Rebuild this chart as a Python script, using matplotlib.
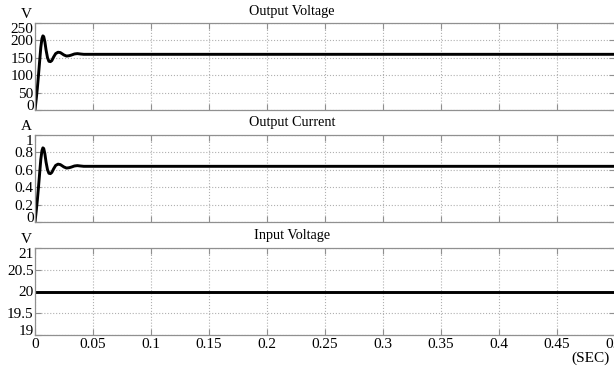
import numpy as np
import matplotlib
matplotlib.use('Agg')
import matplotlib.pyplot as plt
from matplotlib.ticker import FuncFormatter

# values
t = [0, 0.001, 0.002, 0.003, 0.004, 0.005, 0.006, 0.0068, 0.0075, 0.0085,
     0.0095, 0.0108, 0.012, 0.0133, 0.0145, 0.016, 0.0178, 0.0198, 0.0218,
     0.0232, 0.025, 0.0272, 0.0295, 0.0315, 0.034, 0.0365, 0.039, 0.042,
     0.046, 0.5]
v_out = [0, 30, 62, 100, 140, 180, 205, 213, 211, 196,
         173, 150, 140, 139, 142, 152, 162, 166, 165,
         162, 158, 155, 156, 158, 161, 162, 161, 160,
         160, 160]
i_out = [0, 0.12, 0.25, 0.40, 0.56, 0.72, 0.82, 0.852, 0.845, 0.785,
         0.69, 0.60, 0.56, 0.556, 0.57, 0.61, 0.65, 0.665, 0.66,
         0.648, 0.632, 0.62, 0.624, 0.632, 0.644, 0.648, 0.644, 0.64,
         0.64, 0.64]
t_in = [0, 0.5]
v_in = [20, 20]

x_ticks = [0, 0.05, 0.1, 0.15, 0.2, 0.25, 0.3, 0.35, 0.4, 0.45, 0.5]
panels = [
    ('Output Voltage', 'V', t, v_out, (0, 250), [0, 50, 100, 150, 200, 250]),
    ('Output Current', 'A', t, i_out, (0, 1), [0, 0.2, 0.4, 0.6, 0.8, 1]),
    ('Input Voltage', 'V', t_in, v_in, (19, 21), [19, 19.5, 20, 20.5, 21]),
]

plt.rcParams['font.family'] = ['Liberation Serif', 'DejaVu Serif']

W, H = 614, 367
fig = plt.figure(figsize=(W / 100, H / 100), dpi=100)

# (top, bottom) in pixels of each panel
boxes = [(23, 110), (135, 222), (248, 335)]
left_px, right_px = 35, 615

fmt = FuncFormatter(lambda x, p: ('%g' % x))

for k, (title, unit, xs, ys, ylim, yt) in enumerate(panels):
    top, bot = boxes[k]
    ax = fig.add_axes([left_px / W, 1 - bot / H, (right_px - left_px) / W, (bot - top) / H])
    ax.plot(xs, ys, color='black', lw=2.1, solid_joinstyle='round')
    ax.set_xlim(0, 0.5)
    ax.set_ylim(*ylim)
    ax.set_yticks(yt)
    ax.set_xticks(x_ticks)
    ax.yaxis.set_major_formatter(fmt)
    ax.xaxis.set_major_formatter(fmt)
    ax.grid(True, linestyle=':', color='#b0b0b0', lw=0.8)
    ax.tick_params(direction='in', length=4, width=0.8, color='#909090',
                   top=True, right=True, labelsize=11, pad=1)
    ax.tick_params(axis='x', pad=2)
    if k < 2:
        ax.tick_params(labelbottom=False)
    for s in ax.spines.values():
        s.set_color('#909090')
        s.set_linewidth(0.9)
    # keep end labels inside the box, like the original
    labs = ax.get_yticklabels()
    labs[0].set_va('baseline')
    labs[-1].set_va('top')
    fig.text(292 / W, 1 - (top - 12) / H, title, ha='center', va='center', fontsize=10.3)
    fig.text(26 / W, 1 - (top - 8.5) / H, unit, ha='center', va='center', fontsize=11)

fig.text(590 / W, 1 - 358 / H, '(SEC)', ha='center', va='center', fontsize=11)

fig.savefig('out.png', dpi=100)
